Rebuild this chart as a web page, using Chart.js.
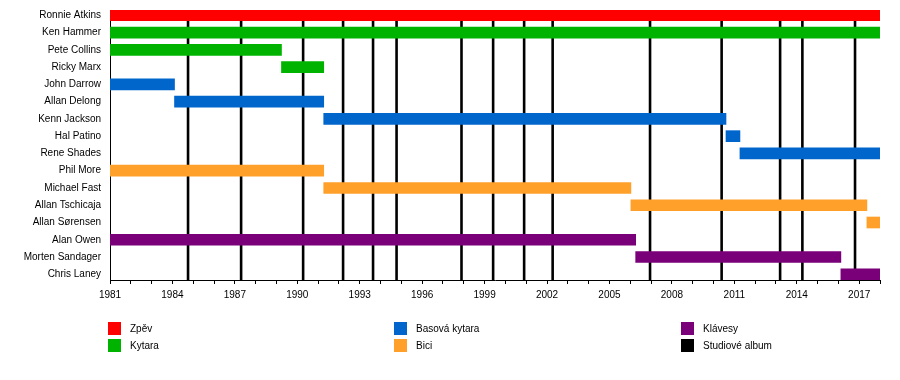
<!DOCTYPE html>
<html>
<head>
<meta charset="utf-8">
<script src="https://cdn.jsdelivr.net/npm/chart.js@4.4.1/dist/chart.umd.min.js"></script>
<style>
  html, body { margin: 0; padding: 0; background: #fff; }
  #wrap { position: relative; width: 900px; height: 380px; }
  #legend { position: absolute; left: 0; top: 0; width: 900px; height: 380px; pointer-events: none;
            font-family: 'Liberation Sans', Arial, sans-serif; font-size: 10px; color: #000; }
  .li { position: absolute; height: 13px; line-height: 13px; white-space: nowrap; }
  .li span.box { position: absolute; left: 0; top: 0; width: 13px; height: 13px; }
  .li span.txt { position: absolute; left: 22px; top: 0; }
</style>
</head>
<body>
<div id="wrap">
  <canvas id="c" width="900" height="380"></canvas>
  <div id="legend"></div>
</div>
<script>
// ---- data ----
const members = ['Ronnie Atkins', 'Ken Hammer', 'Pete Collins', 'Ricky Marx', 'John Darrow', 'Allan Delong',
  'Kenn Jackson', 'Hal Patino', 'Rene Shades', 'Phil More', 'Michael Fast', 'Allan Tschicaja',
  'Allan Sørensen', 'Alan Owen', 'Morten Sandager', 'Chris Laney'];
const roles = ['Zpěv', 'Kytara', 'Kytara', 'Kytara', 'Basová kytara', 'Basová kytara',
  'Basová kytara', 'Basová kytara', 'Basová kytara', 'Bici', 'Bici', 'Bici',
  'Bici', 'Klávesy', 'Klávesy', 'Klávesy'];
const starts = [1981, 1981, 1981, 1989.24, 1981, 1984.1, 1991.27, 2010.6, 2011.27, 1981, 1991.27, 2006.03, 2017.37, 1981, 2006.26, 2016.12];
const ends   = [2018, 2018, 1989.24, 1991.27, 1984.1, 1991.27, 2010.6, 2011.27, 2018, 1991.27, 2006.03, 2017.37, 2018, 2006.26, 2016.12, 2018];
const albumYears = [1984.75, 1987.3, 1990.28, 1992.2, 1993.64, 1994.77, 1997.89, 1999.41, 2000.9, 2002.27, 2006.95, 2010.39, 2013.2, 2014.27, 2016.8];
const roleNames = ['Zpěv', 'Kytara', 'Basová kytara', 'Bici', 'Klávesy'];
const roleColors = ['#ff0000', '#00b300', '#0066cc', '#ffa02a', '#7a007a'];
const albumLabel = 'Studiové album';
const albumColor = '#000000';
const tickYears = [1981,1982,1983,1984,1985,1986,1987,1988,1989,1990,1991,1992,1993,1994,1995,1996,1997,1998,1999,
  2000,2001,2002,2003,2004,2005,2006,2007,2008,2009,2010,2011,2012,2013,2014,2015,2016,2017,2018];
const tickLabels = ['1981','1984','1987','1990','1993','1996','1999','2002','2005','2008','2011','2014','2017'];
const legendLabels = ['Zpěv', 'Kytara', 'Basová kytara', 'Bici', 'Klávesy', 'Studiové album'];
const legendColors = ['#ff0000', '#00b300', '#0066cc', '#ffa02a', '#7a007a', '#000000'];

const X_MIN = 1981, X_MAX = 2018;
const Y_MIN = -0.306, Y_MAX = 15.33;

// ---- datasets ----
const barSets = roleNames.map((r, k) => ({
  type: 'bar',
  label: r,
  indexAxis: 'y',
  grouped: false,
  barThickness: 11,
  borderWidth: 0,
  backgroundColor: roleColors[k],
  order: 1,
  data: members.map((m, i) => roles[i] === r ? { x: [starts[i], ends[i]], y: i } : null).filter(d => d)
}));

const albumData = [];
albumYears.forEach(a => {
  albumData.push({ x: a, y: Y_MIN }, { x: a, y: Y_MAX }, { x: a, y: null });
});
const albumSet = {
  type: 'line',
  label: albumLabel,
  data: albumData,
  borderColor: albumColor,
  borderWidth: 2.6,
  pointRadius: 0,
  spanGaps: false,
  fill: false,
  order: 5
};

Chart.defaults.font.family = "'Liberation Sans', Arial, sans-serif";
Chart.defaults.font.size = 10;
Chart.defaults.color = '#000';

new Chart(document.getElementById('c'), {
  data: { datasets: [albumSet, ...barSets] },
  options: {
    responsive: false,
    animation: false,
    layout: { padding: { left: 0, right: 20, top: 10, bottom: 70 } },
    plugins: { legend: { display: false }, tooltip: { enabled: false } },
    scales: {
      x: {
        type: 'linear',
        offset: false,
        min: X_MIN, max: X_MAX,
        afterBuildTicks: s => { s.ticks = tickYears.map(v => ({ value: v })); },
        afterFit: s => { s.height = 30; s.paddingLeft = 0; s.paddingRight = 0; },
        ticks: {
          autoSkip: false, maxRotation: 0, padding: 5,
          callback: v => tickLabels.includes(String(v)) ? String(v) : ''
        },
        grid: { offset: false, drawOnChartArea: false, tickLength: 4, tickColor: '#000', tickWidth: 1 },
        border: { color: '#000', width: 1 }
      },
      y: {
        type: 'linear',
        offset: false,
        reverse: true,
        min: Y_MIN, max: Y_MAX,
        afterBuildTicks: s => { s.ticks = members.map((m, i) => ({ value: i })); },
        afterFit: s => { s.width = 110; s.paddingTop = 0; s.paddingBottom = 0; },
        ticks: { autoSkip: false, padding: 9, callback: v => members[v] },
        grid: { offset: false, display: false, drawTicks: false },
        border: { color: '#000', width: 1 }
      }
    }
  }
});

// ---- legend (3 columns x 2 rows) ----
const legendCols = [108, 394, 681];
const legendRows = [322, 339];
const lg = document.getElementById('legend');
legendLabels.forEach((t, i) => {
  const d = document.createElement('div');
  d.className = 'li';
  d.style.left = legendCols[Math.floor(i / 2)] + 'px';
  d.style.top = legendRows[i % 2] + 'px';
  d.innerHTML = '<span class="box" style="background:' + legendColors[i] + '"></span><span class="txt"></span>';
  d.querySelector('.txt').textContent = t;
  lg.appendChild(d);
});
</script>
</body>
</html>
